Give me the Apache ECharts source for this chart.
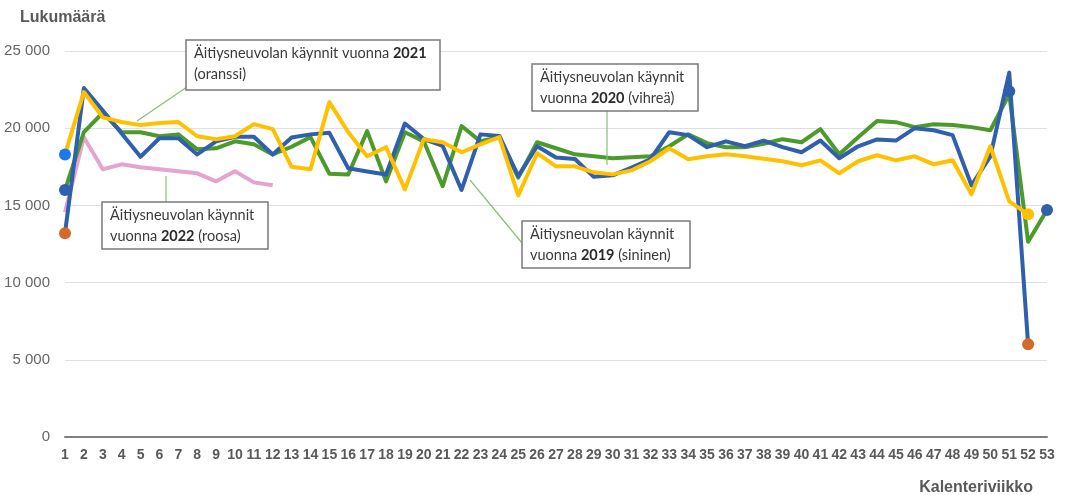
<!DOCTYPE html>
<html>
<head>
<meta charset="utf-8">
<script src="https://cdn.jsdelivr.net/npm/echarts@6/dist/echarts.min.js"></script>
<style>
html,body{margin:0;padding:0;background:#fff;}
#chart{width:1065px;height:495px;}
</style>
</head>
<body>
<div id="chart"></div>
<script>
// ---- data ----
const weeks = ['1','2','3','4','5','6','7','8','9','10','11','12','13','14','15','16','17','18','19','20','21','22','23','24','25','26','27','28','29','30','31','32','33','34','35','36','37','38','39','40','41','42','43','44','45','46','47','48','49','50','51','52','53'];
const yTicks = [0, 5000, 10000, 15000, 20000, 25000];

// 2019 (blue)
const visits2019 = [13200,22600,21150,19650,18150,19350,19350,18300,19150,19450,19450,18300,19400,19600,19700,17400,17200,17000,20300,19300,18850,16000,19600,19500,16900,18830,18100,18000,16850,16950,17450,17990,19740,19550,18770,19150,18830,19200,18770,18440,19200,18050,18830,19270,19200,20000,19870,19550,16300,18180,23600,6000,null];
// 2020 (green)
const visits2020 = [16000,19750,21000,19740,19740,19480,19600,18640,18700,19150,18960,18300,18800,19420,17050,17000,19810,16560,19740,19150,16240,20140,19150,19420,16800,19090,18700,18310,18180,18050,18120,18180,18830,19610,19030,18770,18770,18990,19290,19090,19940,18310,19420,20460,20390,20070,20260,20200,20070,19870,22210,12650,14700];
// 2021 (yellow)
const visits2021 = [18300,22340,20700,20400,20200,20330,20400,19480,19290,19480,20260,19940,17500,17340,21690,19740,18180,18770,16040,19290,19090,18440,18960,19420,15650,18380,17530,17530,17140,17010,17270,17860,18700,17990,18180,18310,18180,18020,17860,17600,17920,17080,17860,18250,17920,18180,17660,17920,15720,18830,15260,14420,null];
// 2022 (pink)
const visits2022 = [14550,19420,17340,17660,17470,17340,17210,17080,16560,17210,16490,16300];

// end-point dots [week, value]
const dotsBrightBlue = [['1',18300]];
const dotsDarkBlue = [['1',16000],['51',22400],['53',14700]];
const dotsOrange = [['1',13200],['52',6000]];
const dotsYellow = [['52',14420]];

// ---- chart ----
const chart = echarts.init(document.getElementById('chart'));
const LINE_W = 4;
const lineSeries = (name, data, color, z) => ({
  name, type:'line', data, z,
  symbol:'none', connectNulls:false,
  lineStyle:{color, width:LINE_W, join:'round'},
  itemStyle:{color},
  emphasis:{disabled:true}
});
const dotSeries = (name, data, color) => ({
  name, type:'scatter', data, symbolSize:12, z:10,
  itemStyle:{color, opacity:1}, emphasis:{disabled:true}
});

const boxStyle = {fill:'#fff', stroke:'#7a7a7a', lineWidth:1.5};
const txtFont = 'Lato, "Noto Sans", sans-serif';
const FS = 14.5;
const annLineStyle = {stroke:'#86c074', lineWidth:1.2};
function box(x, y, w, h, text) {
  return [
    {type:'rect', shape:{x, y, width:w, height:h}, style:boxStyle, z:100},
    {type:'text', x:x+8, y:y+3, z:101, style:{
      text, fill:'#3a3a3a', fontFamily:txtFont, fontSize:FS, lineHeight:21,
      rich:{
        n:{fontFamily:txtFont, fontSize:FS, fill:'#3a3a3a', lineHeight:21},
        b:{fontFamily:txtFont, fontSize:FS, fontWeight:'bold', fill:'#2a2a2a', lineHeight:21}
      }
    }}
  ];
}

const graphics = [
  {type:'text', x:20, y:10, style:{text:'Lukumäärä', fontFamily:'Liberation Sans, Arial, sans-serif', fontSize:16, fontWeight:'bold', fill:'#595959'}},
  {type:'text', x:1033, y:480, style:{text:'Kalenteriviikko', align:'right', fontFamily:'Liberation Sans, Arial, sans-serif', fontSize:16, fontWeight:'bold', fill:'#595959'}},
  // connectors
  {type:'line', shape:{x1:187, y1:87, x2:137, y2:121}, style:annLineStyle, z:99},
  {type:'line', shape:{x1:166, y1:176, x2:166, y2:202}, style:annLineStyle, z:99},
  {type:'line', shape:{x1:607, y1:111, x2:607, y2:165}, style:annLineStyle, z:99},
  {type:'line', shape:{x1:470, y1:180, x2:522, y2:243}, style:annLineStyle, z:99},
  ...box(186, 40, 254, 50, '{n|Äitiysneuvolan käynnit vuonna }{b|2021}\n{n|(oranssi)}'),
  ...box(102, 202, 166, 47, '{n|Äitiysneuvolan käynnit}\n{n|vuonna }{b|2022}{n| (roosa)}'),
  ...box(532, 64, 166, 47, '{n|Äitiysneuvolan käynnit}\n{n|vuonna }{b|2020}{n| (vihreä)}'),
  ...box(522, 221, 168, 47, '{n|Äitiysneuvolan käynnit}\n{n|vuonna }{b|2019}{n| (sininen)}')
];

chart.setOption({
  animation:false,
  backgroundColor:'#fff',
  grid:{left:65, right:18, top:51, bottom:58, containLabel:false},
  xAxis:{
    type:'category', data:weeks, boundaryGap:false,
    axisLine:{show:true, lineStyle:{color:'#808080', width:2}},
    axisTick:{show:false},
    axisLabel:{interval:0, margin:11, fontFamily:'Liberation Sans, Arial, sans-serif', fontSize:14, fontWeight:'bold', color:'#595959', hideOverlap:false},
    splitLine:{show:false}
  },
  yAxis:{
    type:'value', min:yTicks[0], max:yTicks[yTicks.length-1], interval:5000,
    axisLine:{show:false}, axisTick:{show:false},
    axisLabel:{margin:15, fontFamily:'Liberation Sans, Arial, sans-serif', fontSize:15, color:'#666',
      formatter:v => v === 0 ? '0' : String(v).replace(/\B(?=(\d{3})+(?!\d))/g, ' ')},
    splitLine:{lineStyle:{color:'#dde1e6', width:1}}
  },
  series:[
    lineSeries('2022', visits2022, '#e5a3cf', 2),
    lineSeries('2020', visits2020, '#4c9a2a', 3),
    lineSeries('2019', visits2019, '#2f5fad', 4),
    lineSeries('2021', visits2021, '#ffc000', 5),
    dotSeries('d1', dotsBrightBlue, '#1f78e8'),
    dotSeries('d2', dotsDarkBlue, '#2f5fad'),
    dotSeries('d3', dotsOrange, '#d4692a'),
    dotSeries('d4', dotsYellow, '#ffc000')
  ],
  graphic:graphics
});
</script>
</body>
</html>
